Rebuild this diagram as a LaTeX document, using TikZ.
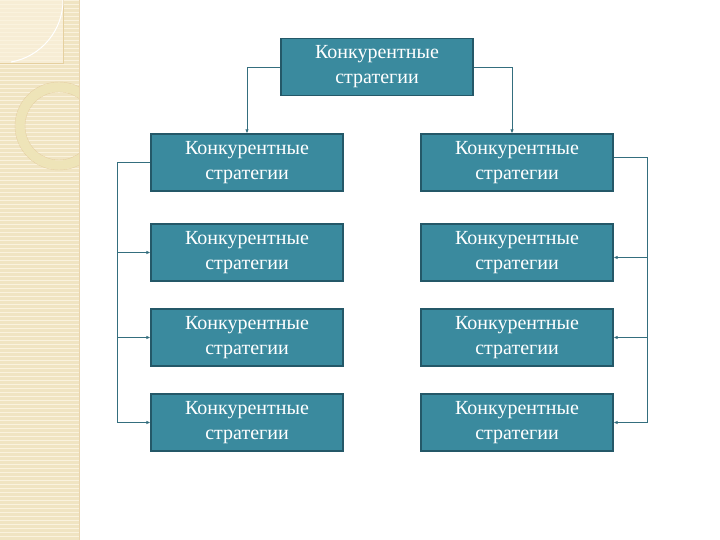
\documentclass[tikz,border=0pt]{standalone}
\usepackage{fontspec}
\setmainfont{Liberation Serif}
\usepackage{xcolor}
\usetikzlibrary{arrows.meta,positioning}

\definecolor{boxfill}{RGB}{58,138,158}
\definecolor{boxline}{RGB}{36,88,104}
\definecolor{wireclr}{RGB}{52,110,126}
\definecolor{stripbg}{RGB}{240,228,194}
\definecolor{stripln}{RGB}{250,242,222}
\definecolor{ringclr}{RGB}{238,228,184}

\begin{document}
\begin{tikzpicture}[x=1pt, y=1pt,
  strat/.style={draw=boxline, line width=1.2pt, fill=boxfill, text=white, minimum width=192pt, minimum height=57pt, align=center, font=\fontsize{20}{25}\selectfont, inner sep=0pt},
  wire/.style={draw=wireclr, line width=0.8pt},
  arr/.style={wire, -{Latex[length=4pt,width=3.5pt]}}
]
\useasboundingbox (0,0) rectangle (720,540);
\fill[white] (0,0) rectangle (720,540);

% left decorative strip
\fill[stripbg] (0,0) rectangle (79,540);
\foreach \yy in {0,4,...,540}
  \draw[stripln, line width=0.8pt] (0,\yy) -- (79,\yy);
\begin{scope}
  \clip (0,0) rectangle (79,540);
  \fill[stripln, opacity=0.7] (0,540) rectangle (63,477);
  \draw[ringclr!80!brown, line width=0.6pt] (63,540) -- (63,477) -- (0,477);
  \draw[white, line width=1pt] (63,540) arc[start angle=0, end angle=-80, radius=63];
  \draw[ringclr, line width=9pt] (59,414) circle[radius=39];
  \draw[ringclr!80!brown, line width=0.4pt] (59,414) circle[radius=44];
  \draw[ringclr!80!brown, line width=0.4pt] (59,414) circle[radius=34];
\end{scope}
\draw[stripbg!85!brown, line width=0.6pt] (79.5,0) -- (79.5,540);

% boxes
\node[strat] (top) at (377,473) {Конкурентные\\стратегии};
\node[strat] (l1) at (247,377.5) {Конкурентные\\стратегии};
\node[strat] (r1) at (517,377.5) {Конкурентные\\стратегии};
\node[strat] (l2) at (247,287.5) {Конкурентные\\стратегии};
\node[strat] (r2) at (517,287.5) {Конкурентные\\стратегии};
\node[strat] (l3) at (247,202.5) {Конкурентные\\стратегии};
\node[strat] (r3) at (517,202.5) {Конкурентные\\стратегии};
\node[strat] (l4) at (247,117.5) {Конкурентные\\стратегии};
\node[strat] (r4) at (517,117.5) {Конкурентные\\стратегии};

% top links
\draw[arr] (top.west) -| (l1.north);
\draw[arr] (top.east) -| ([xshift=-5pt]r1.north);

% left bus
\coordinate (lb) at ([xshift=-33pt]l1.west);
\draw[arr] (l1.west) -- (lb) |- (l4.west);
\draw[arr] (lb |- l2.west) -- (l2.west);
\draw[arr] (lb |- l3.west) -- (l3.west);

% right bus
\coordinate (rb) at ([xshift=34pt, yshift=5pt]r1.east);
\draw[arr] ([yshift=5pt]r1.east) -- (rb) |- (r4.east);
\draw[arr] (rb |- r2.east) ++(0,-5pt) coordinate (r2in) -- ([yshift=-5pt]r2.east);
\draw[arr] (rb |- r3.east) -- (r3.east);
\end{tikzpicture}
\end{document}
